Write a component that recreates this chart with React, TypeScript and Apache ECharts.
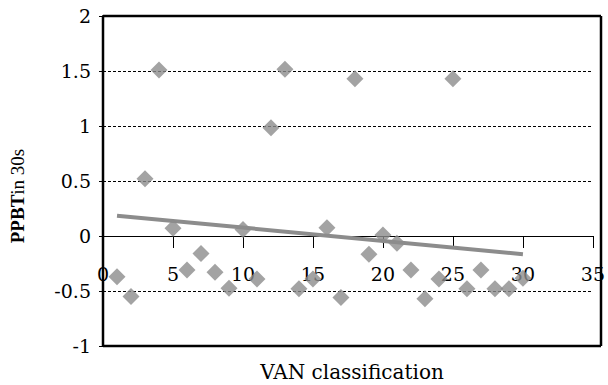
import React, { useEffect, useRef } from "react";
import * as echarts from "echarts";

const xValues = [1, 2, 3, 4, 5, 6, 7, 8, 9, 10, 11, 12, 13, 14, 15, 16, 17, 18, 19, 20, 21, 22, 23, 24, 25, 26, 27, 28, 29, 30];
const yValues = [-0.37, -0.55, 0.52, 1.51, 0.07, -0.31, -0.16, -0.33, -0.475, 0.06, -0.39, 0.985, 1.515, -0.48, -0.39, 0.075, -0.56, 1.43, -0.165, 0.01, -0.065, -0.31, -0.57, -0.39, 1.43, -0.48, -0.31, -0.48, -0.48, -0.385];
const trendX = [1, 30];
const trendY = [0.185, -0.165];

const TICK_FONT = "DejaVu Serif";
const TITLE_FONT = "Liberation Serif";

const W = 608;
const H = 385;
const G_LEFT = 103;
const G_TOP = 16;
const G_RIGHT = 7;
const G_BOTTOM = 39;
const Y_MIN = -1;
const Y_MAX = 2;
const plotH = H - G_TOP - G_BOTTOM;
const plotW = W - G_LEFT - G_RIGHT;
const zeroOffset = -plotH * ((0 - Y_MIN) / (Y_MAX - Y_MIN));

const L = G_LEFT;
const R = G_LEFT + plotW;
const T = G_TOP;
const B = G_TOP + plotH;

export default function App() {
  const ref = useRef<HTMLDivElement>(null);
  useEffect(() => {
    if (!ref.current) return;
    const chart = echarts.init(ref.current, null, { renderer: "svg" });
    const borderStyle = { stroke: "#000000", lineWidth: 2.5 };
    chart.setOption({
      animation: false,
      backgroundColor: "#ffffff",
      grid: {
        left: G_LEFT,
        top: G_TOP,
        right: G_RIGHT,
        bottom: G_BOTTOM,
      },
      xAxis: {
        type: "value",
        min: 0,
        max: 35,
        interval: 5,
        offset: zeroOffset,
        axisLine: { show: true, onZero: false, lineStyle: { color: "#000", width: 1 } },
        axisTick: { show: true, inside: false, length: 12, lineStyle: { color: "#000" } },
        axisLabel: { color: "#000", fontFamily: TICK_FONT, fontSize: 19, margin: 28 },
        splitLine: { show: false },
      },
      yAxis: {
        type: "value",
        min: Y_MIN,
        max: Y_MAX,
        interval: 0.5,
        axisLine: { show: true, onZero: false, lineStyle: { color: "#000", width: 2 } },
        axisTick: { show: true, length: 4, lineStyle: { color: "#000" } },
        axisLabel: { color: "#000", fontFamily: TICK_FONT, fontSize: 19, margin: 12 },
        splitLine: { show: true, lineStyle: { color: "#000", type: [3, 2], width: 1 } },
      },
      graphic: [
        { type: "line", shape: { x1: L, y1: T, x2: R, y2: T }, style: borderStyle, z: 100 },
        { type: "line", shape: { x1: R, y1: T, x2: R, y2: B }, style: borderStyle, z: 100 },
        { type: "line", shape: { x1: L, y1: B, x2: R, y2: B }, style: borderStyle, z: 100 },
        { type: "line", shape: { x1: L, y1: T, x2: L, y2: B }, style: borderStyle, z: 100 },
        {
          type: "text",
          x: 17,
          y: 196,
          rotation: Math.PI / 2,
          style: {
            text: "{b|PPBT}{n|in 30s}",
            align: "center",
            verticalAlign: "middle",
            fill: "#000",
            rich: {
              b: { fontFamily: TITLE_FONT, fontSize: 19, fontWeight: "bold", fill: "#000" },
              n: { fontFamily: TITLE_FONT, fontSize: 19, fill: "#000" },
            },
          },
        },
        {
          type: "text",
          x: 352,
          y: 372,
          style: {
            text: "VAN classification",
            align: "center",
            verticalAlign: "middle",
            fontFamily: TICK_FONT,
            fontSize: 20,
            fill: "#000",
          },
        },
      ],
      series: [
        {
          type: "line",
          data: trendX.map((x, i) => [x, trendY[i]]),
          showSymbol: false,
          symbol: "none",
          lineStyle: { color: "#8c8c8c", width: 4 },
          z: 2,
        },
        {
          type: "scatter",
          data: xValues.map((x, i) => [x, yValues[i]]),
          symbol: "diamond",
          symbolSize: [17, 17],
          itemStyle: { color: "#8c8c8c" },
          z: 3,
        },
      ],
    });
    return () => chart.dispose();
  }, []);
  return <div ref={ref} style={{ width: W, height: H, position: "absolute", left: 0, top: 0 }} />;
}
